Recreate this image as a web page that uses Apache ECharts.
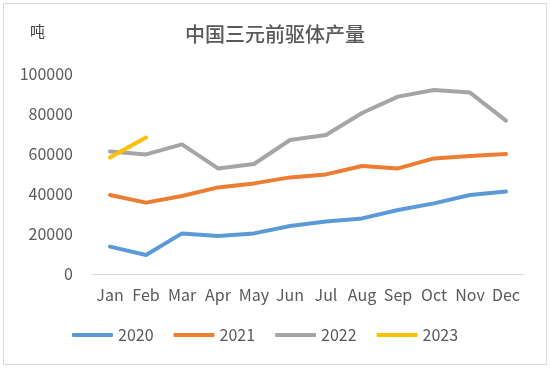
<!DOCTYPE html>
<html><head><meta charset="utf-8">
<script src="https://cdn.jsdelivr.net/npm/echarts@6/dist/echarts.min.js"></script>
<style>html,body{margin:0;padding:0;background:#fff}#c{width:550px;height:368px}</style>
</head><body><div id="c"></div>
<script>
const categories = ['Jan','Feb','Mar','Apr','May','Jun','Jul','Aug','Sep','Oct','Nov','Dec'];
const s2020 = [13700, 9500, 20300, 19000, 20300, 24000, 26200, 27800, 32000, 35300, 39500, 41200];
const s2021 = [39500, 35700, 39000, 43300, 45300, 48300, 49800, 54000, 52800, 57800, 59000, 60000];
const s2022 = [61200, 59800, 64800, 52800, 55000, 67000, 69500, 80500, 88700, 92000, 90700, 76700];
const s2023 = [58300, 68200];
const yTicks = [0, 20000, 40000, 60000, 80000, 100000];
const seriesNames = ['2020','2021','2022','2023'];
const colors = ['#5B9BD5','#ED7D31','#A5A5A5','#FFC000'];
const font = '"Noto Sans CJK SC", "Noto Sans", sans-serif';
const chart = echarts.init(document.getElementById('c'));
const datasets = [s2020, s2021, s2022, s2023];
chart.setOption({
  animation: false,
  textStyle: {fontFamily: font},
  title: {text: '中国三元前驱体产量', left: 'center', top: 19,
    textStyle: {fontSize: 20, fontWeight: 500, color: '#595959', fontFamily: font}},
  graphic: [
    {type: 'rect', shape: {x: 3.5, y: 3.5, width: 543, height: 361}, style: {fill: 'none', stroke: '#D9D9D9', lineWidth: 1}},
    {type: 'text', left: 30, top: 24, style: {text: '吨', fontSize: 15, fill: '#404040', fontFamily: font}}
  ],
  legend: {bottom: 20, left: 67, itemWidth: 41, itemHeight: 4, itemGap: 20, icon: 'roundRect',
    textStyle: {fontSize: 16, color: '#595959', fontFamily: font, padding: [0,0,0,0]},
    data: seriesNames},
  grid: {left: 92, right: 26, top: 74, bottom: 94},
  xAxis: {type: 'category', data: categories, boundaryGap: true,
    axisLine: {lineStyle: {color: '#D9D9D9'}}, axisTick: {show: false},
    axisLabel: {fontSize: 16, color: '#595959', margin: 13, interval: 0}},
  yAxis: {type: 'value', min: yTicks[0], max: yTicks[yTicks.length-1], interval: 20000,
    splitLine: {show: false}, axisLine: {show: false}, axisTick: {show: false},
    axisLabel: {fontSize: 16, color: '#595959', margin: 19, formatter: v => String(v)}},
  series: datasets.map((d, i) => ({
    name: seriesNames[i], type: 'line', data: d, showSymbol: false, symbol: 'none',
    lineStyle: {width: 4, color: colors[i], cap: 'round', join: 'round'},
    itemStyle: {color: colors[i]}
  }))
});
</script></body></html>
